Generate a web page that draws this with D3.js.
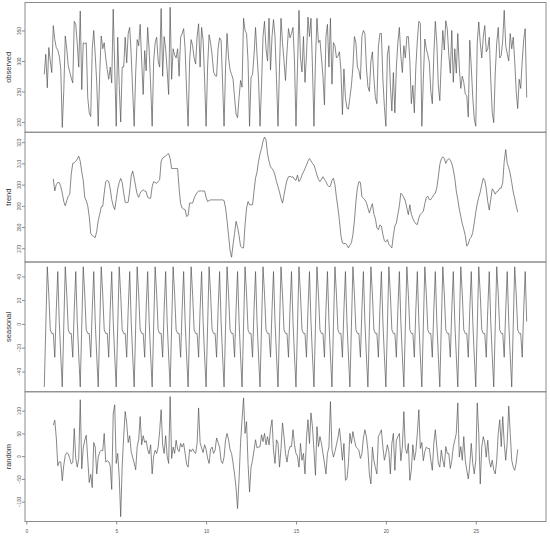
<!DOCTYPE html>
<html>
<head>
<meta charset="utf-8">
<script src="https://cdn.jsdelivr.net/npm/d3@7"></script>
<style>
  body { margin: 0; background: #fff; }
  svg { display: block; font-family: "Liberation Sans", Arial, sans-serif; }
</style>
</head>
<body>
<div class="decomp"></div>
<script>
// monthly-style series: start = 1, 12 obs per unit
const start = 1
const frequency = 12

const observed = [
  278, 311, 256, 322, 300, 281, 358, 335, 322, 318, 308, 287,
  191, 250, 341, 320, 292, 282, 272, 264, 365, 360, 328, 290,
  382, 253, 330, 328, 330, 240, 215, 209, 320, 350, 310, 265,
  193, 280, 341, 320, 330, 305, 286, 270, 290, 264, 385, 290,
  193, 339, 260, 200, 290, 290, 339, 297, 345, 355, 310, 250,
  193, 280, 335, 325, 360, 300, 245, 317, 284, 355, 318, 260,
  193, 300, 330, 339, 300, 290, 386, 275, 340, 320, 285, 245,
  388, 270, 320, 310, 305, 320, 275, 339, 345, 353, 320, 250,
  193, 300, 335, 325, 305, 295, 340, 361, 290, 355, 334, 270,
  193, 290, 343, 330, 310, 282, 276, 275, 320, 338, 334, 265,
  193, 290, 345, 305, 285, 278, 270, 240, 213, 207, 240, 268,
  257, 370, 350, 345, 300, 193, 273, 278, 310, 355, 310, 270,
  193, 260, 340, 365, 320, 300, 370, 285, 340, 368, 340, 270,
  193, 290, 370, 330, 300, 268, 315, 353, 338, 345, 355, 300,
  193, 290, 383, 305, 282, 340, 265, 310, 372, 340, 370, 290,
  193, 300, 370, 330, 334, 305, 275, 228, 340, 360, 290, 370,
  262, 330, 325, 305, 308, 315, 285, 212, 287, 240, 223, 221,
  240, 260, 290, 340, 330, 290, 284, 270, 340, 350, 345, 290,
  258, 250, 300, 315, 272, 240, 230, 323, 345, 345, 270, 225,
  193, 310, 325, 260, 218, 281, 215, 290, 330, 355, 308, 281,
  325, 305, 340, 340, 300, 230, 260, 215, 290, 333, 365, 362,
  193, 270, 336, 320, 310, 298, 250, 230, 310, 365, 330, 260,
  235, 300, 350, 318, 366, 352, 310, 280, 350, 265, 320, 280,
  345, 290, 255, 275, 265, 246, 243, 208, 334, 290, 240, 205,
  193, 330, 364, 330, 305, 339, 358, 315, 320, 339, 270, 215,
  199, 280, 330, 355, 305, 309, 334, 383, 325, 312, 300, 345,
  320, 339, 300, 250, 222, 270, 255, 300, 335, 353, 240
]

// centred moving average, NA (null) at both ends
const trend = [
  null, null, null, null, null, null, 302.7, 297, 300, 301, 301, 299,
  296, 292, 290, 292.5, 294.5, 295.5, 305, 310, 310.3, 311, 312, 313.4,
  311, 306, 302, 294, 292.5, 290, 285, 277, 276, 275.5, 275, 278,
  283, 286, 289.5, 289.7, 296, 301.4, 302, 301.5, 298, 293, 290, 288.2,
  293, 298, 301, 302.9, 301, 296, 291.7, 291.5, 291.7, 297, 304, 306.4,
  303, 299, 295.5, 294, 296, 297, 297.5, 297, 296.7, 294, 293.6, 293.6,
  299, 301.4, 301, 300.6, 301.5, 302.2, 311, 312.5, 313, 313.5, 314.2, 314.6,
  312.3, 307.6, 307.6, 307.6, 307.6, 307.6, 298, 291, 289, 288.5, 288.2, 285,
  285.5, 291.3, 291.3, 291.3, 293.5, 295.2, 296.2, 297, 297, 297, 297, 297,
  294, 292, 292.5, 292.8, 292.8, 292.8, 292.8, 292.8, 292.8, 292.8, 292.8, 292.8,
  292.5, 289, 283, 276, 269, 265.8, 271.8, 277, 282.7, 280, 276, 271,
  270.2, 270.2, 281, 289, 292, 290.5, 290.5, 290.5, 297, 303, 306, 311,
  314.5, 317, 320.5, 322.4, 321, 314.5, 311, 308.4, 307.5, 306.5, 304.5, 301.4,
  299, 296.5, 293.5, 291.3, 295, 299, 302, 303.7, 303.9, 303.5, 303.7, 302.5,
  302, 304.5, 301.4, 302.5, 304.5, 306, 307.5, 309.2, 311, 312.3, 311.2, 310,
  309.2, 307, 304.5, 302.5, 301.4, 302.5, 303.7, 302.5, 301.4, 299.8, 299, 299.3,
  302, 303, 300, 294, 289, 283, 276, 272.5, 272.1, 272.4, 271.5, 270.2,
  271.5, 272.6, 276.5, 283, 292, 298.5, 301.4, 301, 294.4, 293.5, 292.8, 291.5,
  289, 286.6, 289, 291, 286, 284, 279.6, 278.8, 281, 280.5, 276.5, 273.5,
  273, 274.1, 271.8, 271, 270.2, 276, 280.5, 281.9, 286, 290, 296, 295.2,
  293.8, 292.3, 289, 285.8, 290.5, 286, 284, 282.5, 281.5, 281.2, 284.3, 286,
  286.8, 287.4, 291, 294, 294.5, 293, 293, 294, 295.2, 296, 298.5, 303.5,
  309.5, 312, 313.1, 312.3, 310, 311.5, 312.3, 311.5, 310, 307, 303, 297,
  293, 288.5, 285, 281.5, 279, 276, 271, 272, 274.5, 275.2, 277.5, 282,
  287, 291, 294, 296.5, 300, 303, 302, 298, 292, 288, 293, 298,
  297, 295.5, 296.7, 297, 298.3, 298.3, 301, 311, 316.5, 310, 308, 305,
  301, 296.5, 293.5, 290, 287, null, null, null, null, null, null
]

const seasonal = [
  -53, -2, 48, 25, -5, -8, -8, -28, 12, 44, 2, -27,
  -53, -2, 48, 25, -5, -8, -8, -28, 12, 44, 2, -27,
  -53, -2, 48, 25, -5, -8, -8, -28, 12, 44, 2, -27,
  -53, -2, 48, 25, -5, -8, -8, -28, 12, 44, 2, -27,
  -53, -2, 48, 25, -5, -8, -8, -28, 12, 44, 2, -27,
  -53, -2, 48, 25, -5, -8, -8, -28, 12, 44, 2, -27,
  -53, -2, 48, 25, -5, -8, -8, -28, 12, 44, 2, -27,
  -53, -2, 48, 25, -5, -8, -8, -28, 12, 44, 2, -27,
  -53, -2, 48, 25, -5, -8, -8, -28, 12, 44, 2, -27,
  -53, -2, 48, 25, -5, -8, -8, -28, 12, 44, 2, -27,
  -53, -2, 48, 25, -5, -8, -8, -28, 12, 44, 2, -27,
  -53, -2, 48, 25, -5, -8, -8, -28, 12, 44, 2, -27,
  -53, -2, 48, 25, -5, -8, -8, -28, 12, 44, 2, -27,
  -53, -2, 48, 25, -5, -8, -8, -28, 12, 44, 2, -27,
  -53, -2, 48, 25, -5, -8, -8, -28, 12, 44, 2, -27,
  -53, -2, 48, 25, -5, -8, -8, -28, 12, 44, 2, -27,
  -53, -2, 48, 25, -5, -8, -8, -28, 12, 44, 2, -27,
  -53, -2, 48, 25, -5, -8, -8, -28, 12, 44, 2, -27,
  -53, -2, 48, 25, -5, -8, -8, -28, 12, 44, 2, -27,
  -53, -2, 48, 25, -5, -8, -8, -28, 12, 44, 2, -27,
  -53, -2, 48, 25, -5, -8, -8, -28, 12, 44, 2, -27,
  -53, -2, 48, 25, -5, -8, -8, -28, 12, 44, 2, -27,
  -53, -2, 48, 25, -5, -8, -8, -28, 12, 44, 2, -27,
  -53, -2, 48, 25, -5, -8, -8, -28, 12, 44, 2, -27,
  -53, -2, 48, 25, -5, -8, -8, -28, 12, 44, 2, -27,
  -53, -2, 48, 25, -5, -8, -8, -28, 12, 44, 2, -27,
  -53, -2, 48, 25, -5, -8, -8, -28, 12, 44, 2
]

const random = [
  null, null, null, null, null, null, 68, 79, 40, -21, -12, -13,
  -54, -20, 2, 8, 5, -5, -17, -14, 61, -5, -24, -5,
  124, -28, 18, 35, 46, -6, -58, -40, -69, 30, 20, -39,
  -2, 9, 13, 12, 50, -13, -10, -12, -21, -73, 93, 113,
  -16, 6, -45, -133, -20, 43, 98, 73, 30, 45, 10, -3,
  -15, -30, 21, 36, 87, 25, 45, 30, 34, 15, 5, 25,
  -39, 0, 13, 6, 20, 55, 102, 25, 6, 45, 0, -16,
  131, -5, 20, 6, 35, 15, 10, 28, 20, 28, 6, -18,
  -24, 15, 10, 16, 10, 6, 28, 106, 30, 18, 8, 25,
  15, -5, -16, 15, 20, 6, 13, 40, 30, 20, -10, -16,
  -2, 36, 50, 36, 14, 6, -15, -40, -70, -115, -50, 30,
  80, 128, 50, 76, -16, -79, -24, -9, 13, 36, 18, 20,
  21, 47, 32, 50, 25, 43, 25, 60, 80, 13, -16, 36,
  28, -24, 17, 73, 43, 6, -13, 10, 21, 21, 58, 25,
  6, 0, -24, 28, -9, 6, -39, 40, 80, 28, 95, 65,
  13, -42, 65, 21, 43, 28, 6, -15, -39, 6, 20, 120,
  15, -2, 10, 25, 40, 61, 30, -9, 28, -53, -50, -16,
  50, 28, 54, 36, 21, 17, 13, -5, 5, 40, 58, 43,
  13, -40, -61, 20, -10, -25, -39, 43, 50, 58, 20, -9,
  5, 25, 10, -39, 28, 50, -31, 35, 43, 50, -10, 20,
  98, 17, 6, 28, -53, -30, 25, -9, 10, 50, 102, 17,
  30, -10, 10, 20, 17, 17, -9, -31, 28, 58, 20, -15,
  -24, 13, -9, -24, 21, 6, 6, -27, -9, 20, 35, 50,
  117, -2, 21, -9, 43, -9, -31, -50, -20, 28, -16, -39,
  -10, 117, 50, -61, 20, 43, 30, -2, 35, -9, -24, -9,
  -30, -39, -9, 50, 80, 21, 87, 28, -9, 30, 110, 50,
  -9, -24, -31, -15, 15, null, null, null, null, null, null
]

const panelNames = ["observed", "trend", "seasonal", "random"]
const panelValues = [observed, trend, seasonal, random]

const width = 550
const height = 537
const margin = { top: 2.5, right: 4, bottom: 15.5, left: 25 }
const panelHeight = (height - margin.top - margin.bottom) / panelNames.length
const lineColor = "#555"
const boxColor = "#8c8c8c"
const textColor = "#555"

const time = observed.map((d, i) => start + i / frequency)

// R pads the data range by 4% on each side
function pad([lo, hi]) {
  const d = (hi - lo) * 0.04
  return [lo - d, hi + d]
}

const svg = d3.select(".decomp")
  .append("svg")
  .attr("width", width)
  .attr("height", height)

const x = d3.scaleLinear()
  .domain(pad(d3.extent(time)))
  .range([margin.left, width - margin.right])

panelNames.forEach((name, k) => {
  const values = panelValues[k]
  const top = margin.top + k * panelHeight

  const y = d3.scaleLinear()
    .domain(pad(d3.extent(values)))
    .range([top + panelHeight, top])

  const g = svg.append("g").attr("class", "panel")

  const line = d3.line()
    .defined(d => d != null)
    .x((d, i) => x(time[i]))
    .y(d => y(d))

  g.append("path")
    .datum(values)
    .attr("fill", "none")
    .attr("stroke", lineColor)
    .attr("stroke-width", 0.7)
    .attr("stroke-linejoin", "round")
    .attr("d", line)

  // left axis, labels turned parallel to the axis like R's default
  const yAxis = g.append("g")
    .attr("transform", `translate(${margin.left},0)`)
    .call(d3.axisLeft(y).ticks(5).tickSize(3))
    .attr("font-family", "Liberation Sans, Arial, sans-serif")
    .attr("font-size", 4.8)

  yAxis.select(".domain").remove()
  yAxis.selectAll(".tick line").attr("stroke", boxColor)
  yAxis.selectAll(".tick text")
    .attr("x", null)
    .attr("dy", null)
    .attr("fill", textColor)
    .attr("text-anchor", "middle")
    .attr("transform", "translate(-4,0) rotate(-90)")

  g.append("rect")
    .attr("x", margin.left)
    .attr("y", top)
    .attr("width", width - margin.right - margin.left)
    .attr("height", panelHeight)
    .attr("fill", "none")
    .attr("stroke", boxColor)
    .attr("stroke-width", 1)

  g.append("text")
    .attr("transform", `translate(10.5,${top + panelHeight / 2}) rotate(-90)`)
    .attr("text-anchor", "middle")
    .attr("font-size", 7.5)
    .attr("fill", "#333")
    .text(name)
})

// time axis under the last panel
const xAxis = svg.append("g")
  .attr("transform", `translate(0,${height - margin.bottom})`)
  .call(d3.axisBottom(x).ticks(5).tickSize(3).tickPadding(5.5))
  .attr("font-family", "Liberation Sans, Arial, sans-serif")
  .attr("font-size", 4.8)

xAxis.select(".domain").remove()
xAxis.selectAll(".tick line").attr("stroke", boxColor)
xAxis.selectAll(".tick text").attr("fill", textColor)
</script>
</body>
</html>
